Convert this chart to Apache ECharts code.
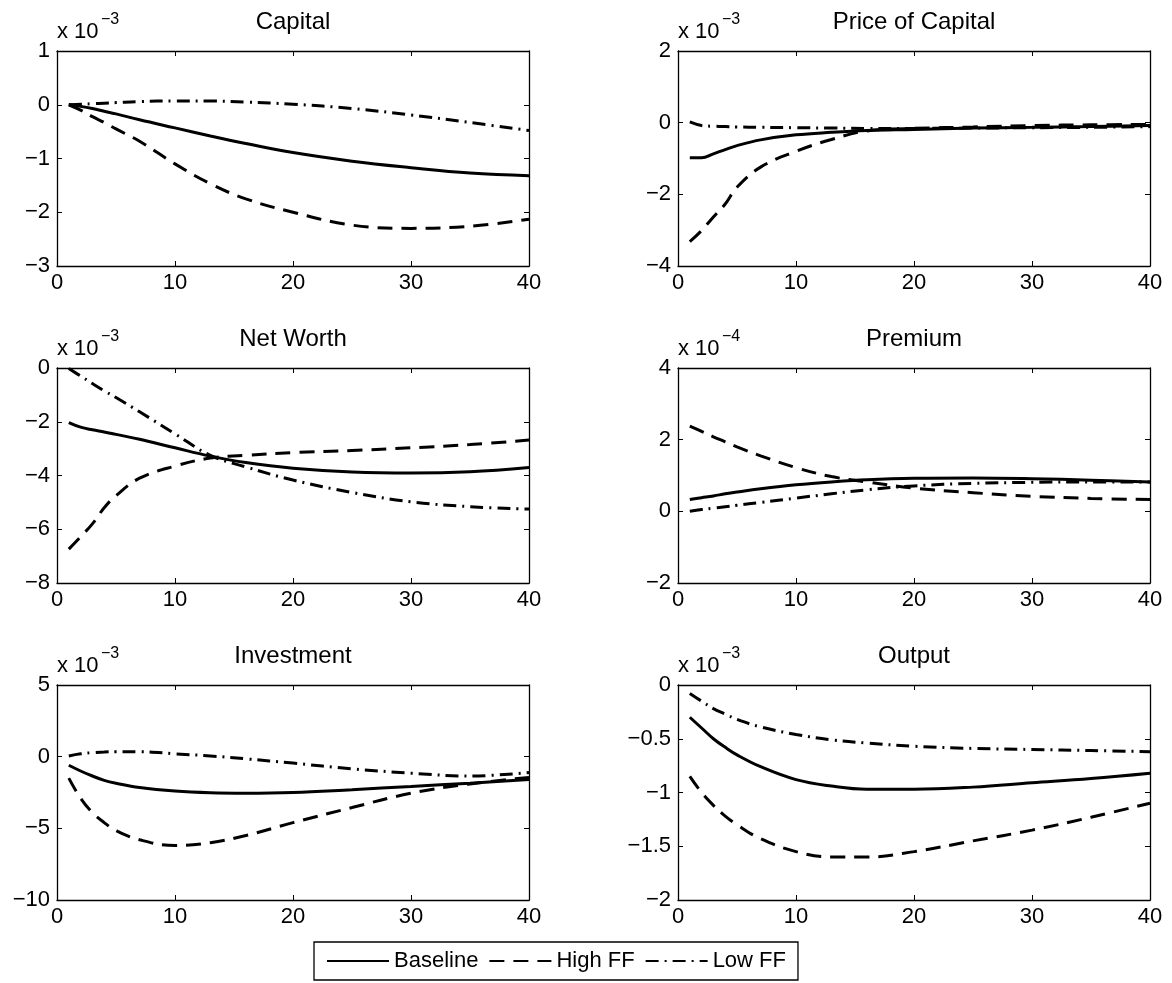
<!DOCTYPE html>
<html>
<head>
<meta charset="utf-8">
<script src="https://cdn.jsdelivr.net/npm/echarts@6/dist/echarts.min.js"></script>
<style>
html,body{margin:0;padding:0;background:#fff;}
#chart{width:1172px;height:983px;}
</style>
</head>
<body>
<div id="chart"></div>
<script>
// Periods at which values were read
const periods = [1,2,3,4,5,7,10,13,16,20,25,30,35,40];

// Capital (x 10^-3)
const capitalBaseline = [0,-0.03,-0.07,-0.12,-0.17,-0.28,-0.43,-0.58,-0.72,-0.89,-1.05,-1.17,-1.27,-1.32];
const capitalHigh     = [0,-0.1,-0.22,-0.33,-0.45,-0.68,-1.1,-1.47,-1.75,-2.0,-2.24,-2.3,-2.26,-2.13];
const capitalLow      = [0,0.01,0.02,0.03,0.04,0.06,0.07,0.07,0.05,0.01,-0.07,-0.19,-0.33,-0.48];

// Price of Capital (x 10^-3)
const priceBaseline = [-0.98,-0.98,-0.87,-0.75,-0.64,-0.48,-0.34,-0.27,-0.22,-0.19,-0.15,-0.13,-0.11,-0.08];
const priceHigh     = [-3.32,-3.01,-2.63,-2.27,-1.8,-1.24,-0.8,-0.47,-0.23,-0.16,-0.12,-0.08,-0.06,-0.05];
const priceLow      = [0.02,-0.08,-0.1,-0.11,-0.12,-0.13,-0.14,-0.15,-0.16,-0.16,-0.15,-0.14,-0.13,-0.11];

// Net Worth (x 10^-3)
const worthBaseline = [-2.03,-2.2,-2.3,-2.38,-2.47,-2.65,-2.97,-3.28,-3.52,-3.73,-3.87,-3.91,-3.86,-3.7];
const worthHigh     = [-6.74,-6.28,-5.8,-5.2,-4.75,-4.1,-3.65,-3.35,-3.25,-3.15,-3.07,-2.97,-2.85,-2.68];
const worthLow      = [-0.02,-0.3,-0.58,-0.85,-1.1,-1.63,-2.45,-3.25,-3.68,-4.17,-4.63,-4.98,-5.16,-5.25];

// Premium (x 10^-4)
const premiumBaseline = [0.33,0.38,0.43,0.49,0.54,0.63,0.74,0.82,0.88,0.92,0.93,0.91,0.87,0.82];
const premiumHigh     = [2.38,2.23,2.08,1.94,1.8,1.55,1.22,0.97,0.82,0.65,0.52,0.42,0.36,0.33];
const premiumLow      = [0.0,0.05,0.09,0.13,0.17,0.25,0.37,0.49,0.6,0.71,0.78,0.81,0.82,0.82];

// Investment (x 10^-3)
const investBaseline = [-0.6,-1.0,-1.35,-1.65,-1.85,-2.15,-2.4,-2.52,-2.55,-2.5,-2.3,-2.08,-1.85,-1.6];
const investHigh     = [-1.5,-2.9,-3.9,-4.6,-5.15,-5.8,-6.2,-6.0,-5.5,-4.6,-3.55,-2.55,-1.9,-1.45];
const investLow      = [0.05,0.2,0.28,0.32,0.35,0.35,0.2,0.05,-0.15,-0.45,-0.85,-1.15,-1.35,-1.1];

// Output (x 10^-3)
const outputBaseline = [-0.3,-0.4,-0.5,-0.58,-0.65,-0.76,-0.88,-0.94,-0.97,-0.97,-0.95,-0.91,-0.87,-0.82];
const outputHigh     = [-0.85,-1.0,-1.12,-1.22,-1.3,-1.43,-1.55,-1.6,-1.6,-1.55,-1.45,-1.35,-1.23,-1.1];
const outputLow      = [-0.08,-0.15,-0.22,-0.27,-0.32,-0.39,-0.46,-0.51,-0.54,-0.57,-0.59,-0.6,-0.61,-0.62];

const panelTitles = ['Capital','Price of Capital','Net Worth','Premium','Investment','Output'];
const exponents = ['\u22123','\u22123','\u22123','\u22124','\u22123','\u22123'];
const yMins = [-3,-4,-8,-2,-10,-2];
const yMaxs = [1,2,0,4,5,0];
const yIntervals = [1,2,2,2,5,0.5];
const xTicks = {min:0, max:40, interval:10};
const seriesNames = ['Baseline','High FF','Low FF'];
const panelData = [
  [capitalBaseline, capitalHigh, capitalLow],
  [priceBaseline, priceHigh, priceLow],
  [worthBaseline, worthHigh, worthLow],
  [premiumBaseline, premiumHigh, premiumLow],
  [investBaseline, investHigh, investLow],
  [outputBaseline, outputHigh, outputLow]
];

// Layout / style
const FONT = '"Liberation Sans", Arial, Helvetica, sans-serif';
const colLeft = [57, 678];
const rowTop = [51, 368, 685];
const gW = 472, gH = 215;
const lineTypes = ['solid', [15, 9], [13, 6, 2, 6]];

const grids = [], xAxes = [], yAxes = [], series = [], graphics = [];
const fmt = v => String(v).replace('-', '\u2212');

for (let p = 0; p < 6; p++) {
  const left = colLeft[p % 2], top = rowTop[Math.floor(p / 2)];
  grids.push({left: left, top: top, width: gW, height: gH, containLabel: false});
  const axLine = {show: true, onZero: false, lineStyle: {color: '#000', width: 1.3}};
  const axTick = {show: true, inside: true, length: 5, lineStyle: {color: '#000', width: 1}};
  xAxes.push({type: 'value', gridIndex: p, position: 'bottom', min: xTicks.min, max: xTicks.max, interval: xTicks.interval,
    axisLine: axLine, axisTick: axTick, splitLine: {show: false},
    axisLabel: {color: '#000', fontSize: 22, fontFamily: FONT, margin: 6, formatter: fmt}});
  xAxes.push({type: 'value', gridIndex: p, position: 'top', min: xTicks.min, max: xTicks.max, interval: xTicks.interval,
    axisLine: axLine, axisTick: axTick, splitLine: {show: false}, axisLabel: {show: false}});
  yAxes.push({type: 'value', gridIndex: p, position: 'left', min: yMins[p], max: yMaxs[p], interval: yIntervals[p],
    axisLine: axLine, axisTick: axTick, splitLine: {show: false},
    axisLabel: {color: '#000', fontSize: 22, fontFamily: FONT, margin: 7, formatter: fmt}});
  yAxes.push({type: 'value', gridIndex: p, position: 'right', min: yMins[p], max: yMaxs[p], interval: yIntervals[p],
    axisLine: axLine, axisTick: axTick, splitLine: {show: false}, axisLabel: {show: false}});

  for (let s = 0; s < 3; s++) {
    const vals = panelData[p][s];
    series.push({
      name: seriesNames[s], type: 'line', xAxisIndex: 2 * p, yAxisIndex: 2 * p,
      data: periods.map((t, i) => [t, vals[i]]),
      smooth: 0.4, symbol: 'none', silent: true,
      lineStyle: {color: '#000', width: 3, type: lineTypes[s]},
      itemStyle: {color: '#000'}
    });
  }

  graphics.push({type: 'text', x: left + gW / 2, y: top - 29,
    style: {text: panelTitles[p], fontSize: 24, fontFamily: FONT, fill: '#000', textAlign: 'center', textVerticalAlign: 'middle'}});
  graphics.push({type: 'text', x: left, y: top - 19,
    style: {text: 'x 10', fontSize: 22, fontFamily: FONT, fill: '#000', textAlign: 'left', textVerticalAlign: 'middle'}});
  graphics.push({type: 'text', x: left + 44, y: top - 31,
    style: {text: exponents[p], fontSize: 16, fontFamily: FONT, fill: '#000', textAlign: 'left', textVerticalAlign: 'middle'}});
}

const chart = echarts.init(document.getElementById('chart'), null, {renderer: 'canvas'});
chart.setOption({
  backgroundColor: '#fff',
  animation: false,
  grid: grids,
  xAxis: xAxes,
  yAxis: yAxes,
  series: series,
  graphic: graphics,
  legend: {
    data: seriesNames,
    left: 314, top: 942,
    orient: 'horizontal',
    itemWidth: 62, itemHeight: 14, itemGap: 10,
    padding: [8, 12],
    borderColor: '#000', borderWidth: 1.3, borderRadius: 0,
    backgroundColor: '#fff',
    selectedMode: false,
    itemStyle: {opacity: 0},
    textStyle: {color: '#000', fontSize: 22, fontFamily: FONT}
  }
});
</script>
</body>
</html>
